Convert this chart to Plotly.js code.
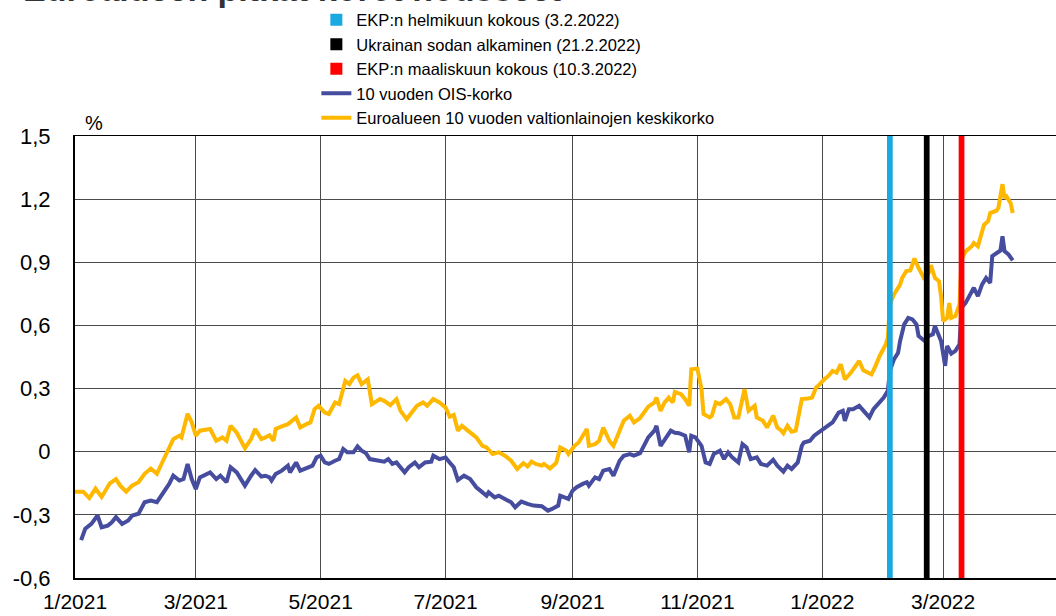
<!DOCTYPE html>
<html>
<head>
<meta charset="utf-8">
<script src="https://cdn.plot.ly/plotly-3.0.1.min.js"></script>
<style>
html,body{margin:0;padding:0;overflow:hidden;background:#fff;}
#chart{width:1100px;height:616px;}
</style>
</head>
<body>
<div id="chart"></div>
<script>
// ---- Data ----
const titleText = 'Euroalueen pitkät korot nousseet';

const eventLabels = ['EKP:n helmikuun kokous (3.2.2022)', 'Ukrainan sodan alkaminen (21.2.2022)', 'EKP:n maaliskuun kokous (10.3.2022)'];
const eventDates = ['2022-02-03', '2022-02-21', '2022-03-10'];

const oisName = '10 vuoden OIS-korko';
const oisDates = [
'2021-01-04','2021-01-06','2021-01-09','2021-01-12','2021-01-14','2021-01-17','2021-01-19','2021-01-21','2021-01-24','2021-01-27','2021-01-29',
'2021-02-01','2021-02-04','2021-02-07','2021-02-10','2021-02-14','2021-02-16','2021-02-18','2021-02-21','2021-02-23','2021-02-25','2021-02-27',
'2021-03-01','2021-03-03','2021-03-08','2021-03-11','2021-03-13','2021-03-16','2021-03-18','2021-03-21','2021-03-25','2021-03-28','2021-03-30',
'2021-04-02','2021-04-04','2021-04-06','2021-04-07','2021-04-09','2021-04-12','2021-04-15','2021-04-16','2021-04-19','2021-04-21','2021-04-25','2021-04-27','2021-04-29',
'2021-05-01','2021-05-03','2021-05-05','2021-05-08','2021-05-10','2021-05-12','2021-05-14','2021-05-17','2021-05-19','2021-05-21','2021-05-23','2021-05-25','2021-05-29',
'2021-06-01','2021-06-03','2021-06-05','2021-06-07','2021-06-11','2021-06-13','2021-06-16','2021-06-18','2021-06-21','2021-06-24','2021-06-25','2021-06-28',
'2021-07-01','2021-07-03','2021-07-05','2021-07-07','2021-07-10','2021-07-13','2021-07-16','2021-07-18','2021-07-21','2021-07-22','2021-07-25','2021-07-27','2021-07-30',
'2021-08-02','2021-08-04','2021-08-07','2021-08-10','2021-08-13','2021-08-17','2021-08-20','2021-08-22','2021-08-25','2021-08-26','2021-08-28','2021-08-30',
'2021-09-01','2021-09-03','2021-09-06','2021-09-08','2021-09-09','2021-09-12','2021-09-14','2021-09-16','2021-09-19','2021-09-21','2021-09-24','2021-09-26','2021-09-29',
'2021-10-01','2021-10-04','2021-10-06','2021-10-08','2021-10-11','2021-10-12','2021-10-14','2021-10-17','2021-10-19','2021-10-21','2021-10-23','2021-10-26','2021-10-28','2021-10-29','2021-10-31',
'2021-11-03','2021-11-05','2021-11-07','2021-11-09','2021-11-12','2021-11-14','2021-11-16','2021-11-18','2021-11-21','2021-11-23','2021-11-25','2021-11-27','2021-11-30',
'2021-12-02','2021-12-05','2021-12-08','2021-12-10','2021-12-13','2021-12-15','2021-12-17','2021-12-20','2021-12-22','2021-12-23','2021-12-26','2021-12-28','2021-12-30',
'2022-01-01','2022-01-04','2022-01-06','2022-01-08','2022-01-09','2022-01-11','2022-01-12','2022-01-14','2022-01-16','2022-01-19','2022-01-21','2022-01-24','2022-01-26','2022-01-28','2022-01-31',
'2022-02-02','2022-02-03','2022-02-05','2022-02-07','2022-02-08','2022-02-10','2022-02-12','2022-02-14','2022-02-16','2022-02-17','2022-02-20','2022-02-22','2022-02-24','2022-02-25','2022-02-26','2022-02-28',
'2022-03-02','2022-03-03','2022-03-05','2022-03-07','2022-03-09','2022-03-10','2022-03-12','2022-03-15','2022-03-16','2022-03-18','2022-03-20','2022-03-22','2022-03-24','2022-03-25','2022-03-27','2022-03-29','2022-03-30','2022-03-31',
'2022-04-02','2022-04-04'
];
const oisValues = [
-0.42,-0.366,-0.343,-0.303,-0.359,-0.351,-0.335,-0.311,-0.343,-0.327,-0.303,
-0.295,-0.24,-0.232,-0.24,-0.185,-0.153,-0.114,-0.137,-0.13,-0.058,-0.13,
-0.177,-0.122,-0.098,-0.13,-0.114,-0.145,-0.074,-0.098,-0.161,-0.114,-0.087,
-0.118,-0.114,-0.122,-0.137,-0.106,-0.09,-0.066,-0.098,-0.051,-0.09,-0.074,-0.066,-0.027,
-0.019,-0.051,-0.058,-0.043,-0.035,0.013,-0.003,-0.003,0.025,0.005,-0.006,-0.035,-0.043,
-0.047,-0.035,-0.058,-0.051,-0.098,-0.074,-0.051,-0.074,-0.051,-0.047,-0.019,-0.035,
-0.027,-0.051,-0.074,-0.135,-0.114,-0.13,-0.169,-0.185,-0.209,-0.193,-0.217,-0.209,-0.224,
-0.24,-0.264,-0.237,-0.248,-0.256,-0.259,-0.28,-0.272,-0.256,-0.209,-0.217,-0.224,
-0.185,-0.169,-0.153,-0.145,-0.161,-0.122,-0.13,-0.09,-0.082,-0.114,-0.043,-0.019,-0.011,
-0.019,-0.007,0.032,0.068,0.10,0.123,0.028,0.068,0.10,0.09,0.088,0.076,-0.003,0.076,0.068,
0.028,-0.051,-0.058,-0.011,0.005,-0.035,-0.003,-0.027,-0.051,0.036,0.02,-0.035,-0.027,
-0.058,-0.066,-0.038,-0.066,-0.095,-0.066,-0.082,-0.051,0.028,0.044,0.052,0.076,0.09,
0.105,0.123,0.139,0.17,0.186,0.194,0.147,0.202,0.202,0.218,0.194,0.163,0.202,0.226,0.257,
0.289,0.384,0.439,0.47,0.526,0.605,0.636,0.629,0.605,0.55,0.526,0.55,0.558,0.597,0.573,0.526,
0.408,0.502,0.466,0.479,0.51,0.684,0.707,0.763,0.779,0.739,0.794,0.826,0.802,0.929,0.945,0.956,1.024,0.953,
0.937,0.909
];

const govName = 'Euroalueen 10 vuoden valtionlainojen keskikorko';
const govDates = [
'2021-01-01','2021-01-05','2021-01-08','2021-01-11','2021-01-14','2021-01-18','2021-01-21','2021-01-23','2021-01-26','2021-01-29',
'2021-02-01','2021-02-04','2021-02-07','2021-02-10','2021-02-13','2021-02-15','2021-02-18','2021-02-21','2021-02-22','2021-02-25','2021-02-27',
'2021-03-01','2021-03-03','2021-03-08','2021-03-11','2021-03-14','2021-03-16','2021-03-18','2021-03-21','2021-03-25','2021-03-28','2021-03-30',
'2021-04-02','2021-04-04','2021-04-06','2021-04-08','2021-04-09','2021-04-12','2021-04-15','2021-04-19','2021-04-21','2021-04-24','2021-04-26','2021-04-28','2021-04-30',
'2021-05-03','2021-05-05','2021-05-08','2021-05-10','2021-05-13','2021-05-15','2021-05-17','2021-05-19','2021-05-21','2021-05-24','2021-05-26','2021-05-30',
'2021-06-01','2021-06-04','2021-06-07','2021-06-09','2021-06-12','2021-06-15','2021-06-17','2021-06-20','2021-06-22','2021-06-25','2021-06-28',
'2021-07-01','2021-07-03','2021-07-05','2021-07-07','2021-07-09','2021-07-13','2021-07-16','2021-07-19','2021-07-21','2021-07-24','2021-07-27','2021-07-30',
'2021-08-02','2021-08-05','2021-08-08','2021-08-10','2021-08-12','2021-08-14','2021-08-17','2021-08-18','2021-08-21','2021-08-24','2021-08-26','2021-08-29','2021-08-30',
'2021-09-02','2021-09-04','2021-09-08','2021-09-09','2021-09-12','2021-09-14','2021-09-16','2021-09-19','2021-09-21','2021-09-24','2021-09-26','2021-09-29',
'2021-10-01','2021-10-04','2021-10-06','2021-10-08','2021-10-11','2021-10-12','2021-10-14','2021-10-16','2021-10-18','2021-10-20','2021-10-21','2021-10-24','2021-10-26','2021-10-28','2021-10-29',
'2021-11-01','2021-11-03','2021-11-04','2021-11-07','2021-11-08','2021-11-10','2021-11-12','2021-11-15','2021-11-17','2021-11-19','2021-11-21','2021-11-24','2021-11-26','2021-11-29','2021-11-30',
'2021-12-03','2021-12-05','2021-12-08','2021-12-10','2021-12-12','2021-12-13','2021-12-15','2021-12-17','2021-12-19','2021-12-21','2021-12-22','2021-12-25','2021-12-27','2021-12-29','2021-12-30',
'2022-01-02','2022-01-04','2022-01-06','2022-01-08','2022-01-10','2022-01-12','2022-01-15','2022-01-17','2022-01-19','2022-01-21','2022-01-24','2022-01-25','2022-01-27','2022-01-29',
'2022-02-01','2022-02-02','2022-02-03','2022-02-05','2022-02-08','2022-02-09','2022-02-11','2022-02-13','2022-02-15','2022-02-17','2022-02-20','2022-02-22','2022-02-23','2022-02-25','2022-02-27','2022-02-28',
'2022-03-01','2022-03-03','2022-03-04','2022-03-05','2022-03-07','2022-03-09','2022-03-10','2022-03-12','2022-03-15','2022-03-16','2022-03-18','2022-03-19','2022-03-21','2022-03-23','2022-03-24','2022-03-27','2022-03-28','2022-03-30','2022-03-31',
'2022-04-01','2022-04-03','2022-04-04'
];
const govValues = [
-0.19,-0.19,-0.22,-0.175,-0.215,-0.15,-0.13,-0.16,-0.19,-0.16,
-0.145,-0.105,-0.08,-0.105,-0.043,-0.003,0.06,0.076,0.068,0.18,0.14,
0.076,0.10,0.108,0.052,0.068,0.052,0.123,0.09,0.017,0.06,0.108,
0.06,0.068,0.078,0.052,0.108,0.12,0.131,0.163,0.115,0.131,0.139,0.202,0.218,
0.186,0.179,0.234,0.226,0.336,0.321,0.352,0.363,0.321,0.344,0.226,0.25,
0.242,0.221,0.25,0.194,0.155,0.194,0.218,0.234,0.218,0.25,0.234,
0.21,0.167,0.175,0.10,0.123,0.09,0.068,0.028,0.02,-0.011,-0.003,-0.019,
-0.043,-0.082,-0.054,-0.07,-0.047,-0.058,-0.066,-0.058,-0.079,-0.054,0.02,0.005,-0.011,
0.028,0.044,0.108,0.028,0.036,0.052,0.115,0.052,0.028,0.10,0.147,0.171,
0.139,0.16,0.186,0.214,0.234,0.257,0.194,0.234,0.257,0.234,0.284,0.273,0.25,0.218,0.392,
0.395,0.297,0.179,0.163,0.171,0.234,0.226,0.25,0.226,0.163,0.163,0.297,0.194,0.218,0.163,
0.147,0.115,0.171,0.115,0.10,0.088,0.123,0.095,0.10,0.202,0.25,0.253,0.257,0.305,0.313,
0.344,0.36,0.384,0.376,0.416,0.344,0.376,0.408,0.431,0.387,0.376,0.368,0.408,0.455,
0.51,0.542,0.70,0.747,0.794,0.826,0.858,0.861,0.918,0.873,0.818,0.85,0.886,0.826,0.81,0.739,
0.621,0.636,0.707,0.636,0.645,0.70,0.913,0.952,0.976,0.992,0.976,1.016,1.079,1.095,1.134,1.145,1.158,1.271,1.205,
1.213,1.181,1.134
];

const xRange = ['2021-01-01', '2022-05-01'];
const yRange = [-0.6, 1.5];
const yTickVals = [-0.6, -0.3, 0, 0.3, 0.6, 0.9, 1.2, 1.5];
const yTickText = ['-0,6', '-0,3', '0', '0,3', '0,6', '0,9', '1,2', '1,5'];
const yUnit = '%';

// ---- Styles ----
const FONT = 'Liberation Sans, Arial, sans-serif';
const eventColors = ['#1aa9e0', '#000000', '#ff0000'];
const eventWidthMs = 2.8 * 86400000;
const oisColor = '#464c9e';
const govColor = '#ffb800';
const gridColor = '#4a4a4a';

const traces = [];
eventLabels.forEach((lab, i) => {
  traces.push({
    type: 'bar',
    name: lab,
    x: [eventDates[i]],
    y: [yRange[1] - yRange[0]],
    base: yRange[0],
    width: eventWidthMs,
    marker: {color: eventColors[i], line: {width: 0}},
    xaxis: 'x2', yaxis: 'y2',
    hoverinfo: 'skip'
  });
});
traces.push({
  type: 'scatter', mode: 'lines', name: oisName,
  x: oisDates, y: oisValues,
  line: {color: oisColor, width: 4}
});
traces.push({
  type: 'scatter', mode: 'lines', name: govName,
  x: govDates, y: govValues,
  line: {color: govColor, width: 4}
});

const layout = {
  width: 1100, height: 616,
  margin: {l: 75, r: 32, t: 136, b: 38, autoexpand: false},
  paper_bgcolor: '#fff', plot_bgcolor: '#fff',
  font: {family: FONT, color: '#000'},
  showlegend: true,
  barmode: 'overlay',
  hovermode: false,
  legend: {
    xref: 'container', yref: 'container',
    x: 0.2876, y: 0.9957, xanchor: 'left', yanchor: 'top',
    font: {family: FONT, size: 16.5, color: '#000'},
    bgcolor: 'rgba(0,0,0,0)', borderwidth: 0,
    itemwidth: 30, traceorder: 'normal'
  },
  xaxis: {
    type: 'date', range: xRange,
    tick0: '2021-01-01', dtick: 'M2', tickformat: '%-m/%Y', tickangle: 0,
    showgrid: true, gridcolor: gridColor, gridwidth: 1,
    showline: true, linecolor: '#000', linewidth: 1.5, mirror: true,
    ticks: '', ticklabelstandoff: 4,
    tickfont: {family: FONT, size: 21, color: '#000'},
    zeroline: false, automargin: false
  },
  yaxis: {
    range: yRange, tickmode: 'array', tickvals: yTickVals, ticktext: yTickText,
    showgrid: true, gridcolor: gridColor, gridwidth: 1,
    zeroline: true, zerolinecolor: gridColor, zerolinewidth: 1,
    showline: true, linecolor: '#000', linewidth: 2, mirror: true,
    ticks: '', ticklabelstandoff: 18,
    tickfont: {family: FONT, size: 22, color: '#000'}, automargin: false
  },
  xaxis2: {type: 'date', range: xRange, overlaying: 'x', visible: false},
  yaxis2: {range: yRange, overlaying: 'y', visible: false},
  annotations: [
    {text: yUnit, xref: 'paper', yref: 'paper', x: 0.008, y: 1.0, xanchor: 'left', yanchor: 'bottom',
     showarrow: false, font: {family: FONT, size: 20, color: '#000'}},
    {text: titleText, xref: 'paper', yref: 'paper', x: -0.054, y: 1.285, xanchor: 'left', yanchor: 'bottom',
     showarrow: false, font: {family: FONT, size: 34, color: '#333', weight: 'bold'}}
  ]
};

Plotly.newPlot('chart', traces, layout, {staticPlot: true, displayModeBar: false});
</script>
</body>
</html>
